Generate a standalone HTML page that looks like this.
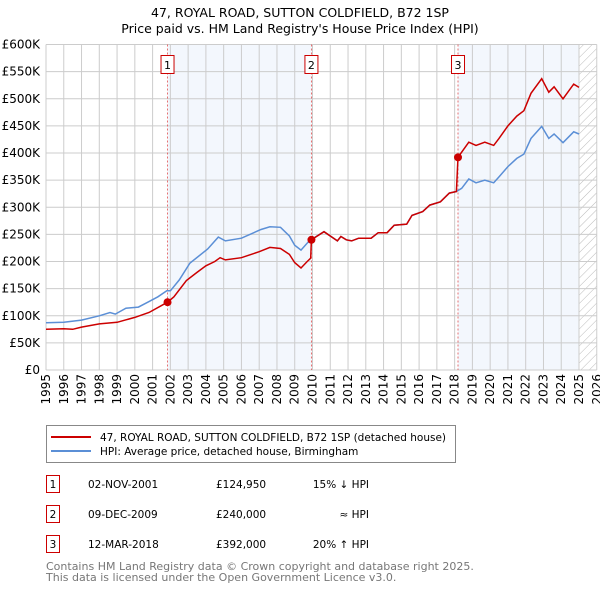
<!DOCTYPE html>
<html><head><meta charset="utf-8"><style>
body{margin:0;background:#fff;font-family:"Liberation Sans","DejaVu Sans",sans-serif;}
svg text{font-family:"DejaVu Sans","Liberation Sans",sans-serif;}
</style></head><body>
<svg id="c" width="600" height="590" xmlns="http://www.w3.org/2000/svg">
<text x="300" y="17" text-anchor="middle" font-size="12.5">47, ROYAL ROAD, SUTTON COLDFIELD, B72 1SP</text>
<text x="300" y="33" text-anchor="middle" font-size="12.5">Price paid vs. HM Land Registry's House Price Index (HPI)</text>
<defs><pattern id="h" width="6" height="6" patternUnits="userSpaceOnUse" patternTransform="rotate(45)"><line x1="0" y1="0" x2="0" y2="6" stroke="#bbb" stroke-width="1"/></pattern></defs>
<g id="plot"></g>
<g>
<rect x="46.5" y="425.5" width="409" height="37" fill="#fff" stroke="#888"/>
<line x1="51" y1="437" x2="91" y2="437" stroke="#cc0000" stroke-width="2"/>
<text x="100" y="441" font-size="10.5">47, ROYAL ROAD, SUTTON COLDFIELD, B72 1SP (detached house)</text>
<line x1="51" y1="451" x2="91" y2="451" stroke="#5b8fd6" stroke-width="2"/>
<text x="100" y="455" font-size="10.5">HPI: Average price, detached house, Birmingham</text>
</g>
<g font-size="10.5">
<rect x="46.5" y="475.5" width="13" height="17" fill="#fff" stroke="#cc0000"/><text x="53" y="488" text-anchor="middle">1</text>
<text x="88" y="488">02-NOV-2001</text><text x="216" y="488">£124,950</text><text x="369" y="488" text-anchor="end">15% ↓ HPI</text>
<rect x="46.5" y="505.5" width="13" height="17" fill="#fff" stroke="#cc0000"/><text x="53" y="518" text-anchor="middle">2</text>
<text x="88" y="518">09-DEC-2009</text><text x="216" y="518">£240,000</text><text x="369" y="518" text-anchor="end">≈ HPI</text>
<rect x="46.5" y="535.5" width="13" height="17" fill="#fff" stroke="#cc0000"/><text x="53" y="548" text-anchor="middle">3</text>
<text x="88" y="548">12-MAR-2018</text><text x="216" y="548">£392,000</text><text x="369" y="548" text-anchor="end">20% ↑ HPI</text>
</g>
<text x="46" y="570" font-size="11" fill="#777">Contains HM Land Registry data © Crown copyright and database right 2025.</text>
<text x="46" y="581" font-size="11" fill="#777">This data is licensed under the Open Government Licence v3.0.</text>
</svg>
<script>
const yTicks=[0,50,100,150,200,250,300,350,400,450,500,550,600];
const years=[1995,1996,1997,1998,1999,2000,2001,2002,2003,2004,2005,2006,2007,2008,2009,2010,2011,2012,2013,2014,2015,2016,2017,2018,2019,2020,2021,2022,2023,2024,2025,2026];
const hpiT=[1995.0,1996,1997,1998,1998.6,1998.9,1999.5,2000.2,2000.8,2001.3,2001.8,2002.0,2002.5,2003.1,2004.1,2004.7,2005.1,2006.0,2007.1,2007.6,2008.2,2008.7,2009.0,2009.35,2009.7,2009.9,2010.65,2011.4,2011.6,2011.9,2012.2,2012.6,2013.3,2013.7,2014.2,2014.6,2015.3,2015.6,2016.2,2016.6,2017.2,2017.7,2018.1,2018.4,2018.8,2019.2,2019.7,2020.2,2020.5,2021.0,2021.5,2021.9,2022.3,2022.9,2023.3,2023.6,2024.1,2024.7,2025.0];
const hpiV=[87,88,92,100,106,103,114,116,126,135,146,146,166,197,223,245,238,243,259,264,263,247,230,221,234,240,255,238,246,240,238,243,243,253,253,267,269,285,292,304,310,326,329,335,352,345,350,345,356,375,390,398,427,449,427,435,419,439,435];
const redT=[1995.0,1996,1996.5,1997,1998,1999,2000,2000.8,2001.84,2002.2,2002.9,2003.5,2004,2004.5,2004.8,2005.1,2006,2007,2007.6,2008.2,2008.7,2009.0,2009.35,2009.7,2009.9,2009.94,2010.65,2011.4,2011.6,2011.9,2012.2,2012.6,2013.3,2013.7,2014.2,2014.6,2015.3,2015.6,2016.2,2016.6,2017.2,2017.7,2018.1,2018.19,2018.8,2019.2,2019.7,2020.2,2020.5,2021.0,2021.5,2021.9,2022.3,2022.9,2023.3,2023.6,2024.1,2024.7,2025.0];
const redV=[75,76,75,79,85,88,97,106,125,135,165,180,192,200,207,203,207,218,226,224,213,198,188,200,206,240,255,238,246,240,238,243,243,253,253,267,269,285,292,304,310,326,329,392,420,414,420,414,427,450,468,478,510,537,512,522,500,527,521];
const saleT=[2001.84,2009.94,2018.19];
const saleV=[124.95,240,392];
const saleLabels=["1","2","3"];
const X=t=>46+(t-1995)*(533/30), Y=v=>370-v*(325.5/600);
const NS="http://www.w3.org/2000/svg", g=document.getElementById('plot');
function mk(tag,a,p){const e=document.createElementNS(NS,tag);for(const k in a)e.setAttribute(k,a[k]);(p||g).appendChild(e);return e;}
let r=mk('rect',{x:X(saleT[0]),y:Y(600),width:X(saleT[1])-X(saleT[0]),height:Y(0)-Y(600),fill:'#eef3fc',opacity:0.7});


r=mk('rect',{x:X(saleT[2]),y:Y(600),width:X(2025)-X(saleT[2]),height:Y(0)-Y(600),fill:'#eef3fc',opacity:0.7});


r=mk('rect',{x:X(2025),y:Y(600),width:X(2026)-X(2025),height:Y(0)-Y(600),fill:'url(#h)'});


yTicks.forEach(v=>{const l=mk('line',{x1:46,x2:X(2026),y1:Y(v),y2:Y(v),stroke:'#ccc'});


const t=mk('text',{x:40,y:Y(v)+4,'text-anchor':'end','font-size':12});t.textContent=v==0?'£0':'£'+v+'K';

});
years.forEach(y=>{const l=mk('line',{x1:X(y),x2:X(y),y1:Y(600),y2:Y(0),stroke:'#ccc'});


const t=mk('text',{x:0,y:0,'text-anchor':'end','font-size':12,transform:`translate(${X(y)+4},374) rotate(-90)`});t.textContent=y;

});
saleT.forEach((s,i)=>{const l=mk('line',{x1:X(s),x2:X(s),y1:Y(600),y2:Y(0),stroke:'#e05050','stroke-dasharray':'2,2','stroke-width':0.8});


const b=mk('rect',{x:X(s)-6.5,y:55.5,width:13,height:18,fill:'#fff',stroke:'#cc0000'});


const t=mk('text',{x:X(s),y:69,'text-anchor':'middle','font-size':11});t.textContent=saleLabels[i];

});
const pts=(T,V)=>T.map((t,i)=>X(t).toFixed(1)+','+Y(V[i]).toFixed(1)).join(' ');
let p=mk('polyline',{points:pts(hpiT,hpiV),fill:'none',stroke:'#5b8fd6','stroke-width':1.5});


p=mk('polyline',{points:pts(redT,redV),fill:'none',stroke:'#cc0000','stroke-width':1.5});


saleT.forEach((s,i)=>{const c=mk('circle',{cx:X(s),cy:Y(saleV[i]),r:4,fill:'#cc0000'});

});
</script>
</body></html>
